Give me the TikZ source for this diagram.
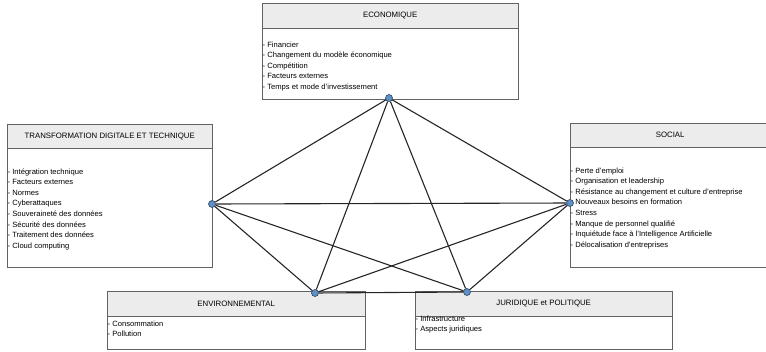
\documentclass[tikz,border=0pt]{standalone}
\usepackage{fontspec}
\setmainfont{Liberation Sans}
\usetikzlibrary{positioning}

\definecolor{bordgris}{HTML}{626262}
\definecolor{fondtitre}{HTML}{ECECEC}
\definecolor{pointbleu}{HTML}{5F90C6}
\definecolor{pointbord}{HTML}{2C4764}

\tikzset{
  cadre/.style={draw=bordgris,fill=white,anchor=north west,inner sep=0pt},
  entete/.style={draw=bordgris,fill=fondtitre,anchor=north west,inner sep=0pt,
    minimum height=25pt,font=\fontsize{7.8}{9}\selectfont},
  item/.style={anchor=base west,inner sep=0pt,font=\fontsize{7.6}{9}\selectfont},
  point/.style={draw=pointbord,fill=pointbleu,circle,inner sep=0pt,minimum size=7pt,line width=.6pt},
  lien/.style={line width=1.1pt,black!85}
}

\begin{document}
\begin{tikzpicture}[x=1pt,y=-1pt]
  \pgfmathsetmacro{\pas}{10.6}
  \useasboundingbox (0,0) rectangle (766,351);

  \node[cadre,minimum width=256pt,minimum height=96pt] (eco) at (262,3) {};
  \node[entete,minimum width=256pt] (ecoT) at (eco.north west) {ECONOMIQUE};
  \foreach \t [count=\i from 0] in {Financier,Changement du modèle économique,Compétition,Facteurs externes,Temps et mode d'investissement}
    \node[item] (eco-\i) at (262.5,47+\pas*\i) {- \t};

  \node[cadre,minimum width=205pt,minimum height=143pt] (tdt) at (7,124) {};
  \node[entete,minimum width=205pt,minimum height=24pt] (tdtT) at (tdt.north west) {TRANSFORMATION DIGITALE ET TECHNIQUE};
  \foreach \t [count=\i from 0] in {Intégration technique,Facteurs externes,Normes,Cyberattaques,Souveraineté des données,Sécurité des données,Traitement des données,Cloud computing}
    \node[item] (tdt-\i) at (7.5,174+\pas*\i) {- \t};

  \node[cadre,minimum width=200pt,minimum height=144pt] (soc) at (570,123) {};
  \node[entete,minimum width=200pt,minimum height=24pt] (socT) at (soc.north west) {SOCIAL};
  \foreach \t [count=\i from 0] in {Perte d'emploi,Organisation et leadership,Résistance au changement et culture d'entreprise,Nouveaux besoins en formation,Stress,Manque de personnel qualifié,Inquiétude face à l'Intelligence Artificielle,Délocalisation d'entreprises}
    \node[item] (soc-\i) at (570.5,173+\pas*\i) {- \t};

  \node[cadre,minimum width=258pt,minimum height=58pt] (env) at (107,291) {};
  \node[entete,minimum width=258pt] (envT) at (env.north west) {ENVIRONNEMENTAL};
  \foreach \t [count=\i from 0] in {Consommation,Pollution}
    \node[item] (env-\i) at (107.5,326+\pas*\i) {- \t};

  \node[cadre,minimum width=257pt,minimum height=58pt] (jur) at (415,291) {};
  \node[entete,minimum width=257pt] (jurT) at (jur.north west) {JURIDIQUE et POLITIQUE};
  \foreach \t [count=\i from 0] in {Infrastructure,Aspects juridiques}
    \node[item] (jur-\i) at (415.5,321+\pas*\i) {- \t};

  \node[point] (pEco) at (389,98) {};
  \node[point] (pTdt) at (212,204) {};
  \node[point] (pSoc) at (570,203) {};
  \node[point] (pEnv) at (315,293) {};
  \node[point] (pJur) at (467,292) {};

  \draw[lien] (pEco) -- (pTdt);
  \draw[lien] (pEco) -- (pSoc);
  \draw[lien] (pEco) -- (pEnv);
  \draw[lien] (pEco) -- (pJur);
  \draw[lien] (pTdt) -- (pSoc);
  \draw[lien] (pTdt) -- (pEnv);
  \draw[lien] (pTdt) -- (pJur);
  \draw[lien] (pSoc) -- (pEnv);
  \draw[lien] (pSoc) -- (pJur);
  \draw[lien] (pEnv) -- (pJur);
\end{tikzpicture}
\end{document}
